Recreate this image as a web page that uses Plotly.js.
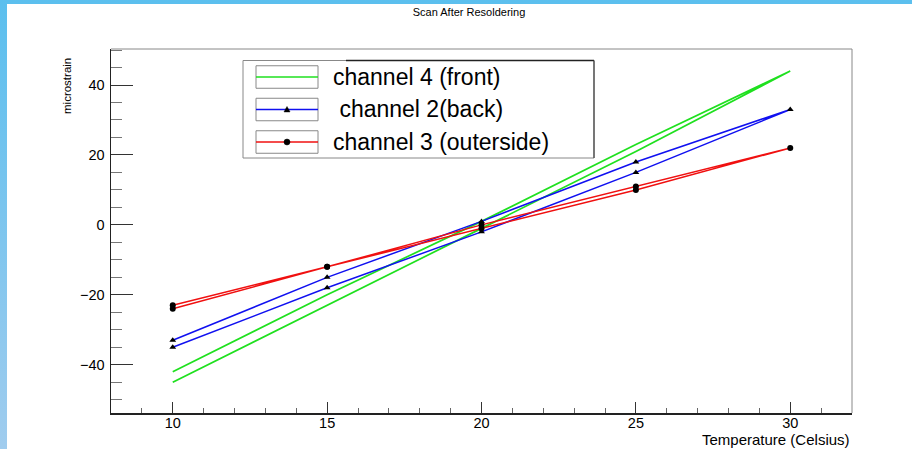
<!DOCTYPE html>
<html><head><meta charset="utf-8">
<script src="https://cdn.plot.ly/plotly-3.0.1.min.js"></script>
<style>
html,body{margin:0;padding:0;}
body{width:912px;height:449px;background:linear-gradient(#5bbfee,#a0ccee);position:relative;overflow:hidden;}
#bg{position:absolute;left:7px;top:4px;right:0;bottom:0;background:#fff;}
#chart{position:absolute;left:0;top:0;width:912px;height:449px;}
</style></head><body><div id="bg"></div><div id="chart"></div>
<script>
// Scan: temperature up 10 -> 30, then back down 30 -> 10
const temperature = [10, 15, 20, 25, 30, 25, 20, 15, 10];
const ch4Front = [-42, -20, 1, 23, 44, 21, -1, -23, -45];
const ch2Back  = [-33, -15, 1, 18, 33, 15, -2, -18, -35];
const ch3Outer = [-23, -12, 0, 11, 22, 10, -1, -12, -24];
const seriesNames = ['channel 4 (front)', '\u00a0channel 2(back)', 'channel 3 (outerside)'];
const yTickVals = [-40, -20, 0, 20, 40];
const xTickVals = [10, 15, 20, 25, 30];

// plot-area pixel geometry
const L = 111, R = 852, T = 49, B = 413;
const W = R - L, H = B - T;
const px = x => (x - L) / W;
const py = y => (B - y) / H;

const traces = [
  {x: temperature, y: ch4Front, mode: 'lines', line: {color: '#1fe01f', width: 1.7}, name: seriesNames[0]},
  {x: temperature, y: ch2Back, mode: 'lines+markers', line: {color: '#1010f0', width: 1.5},
   marker: {symbol: 'triangle-up', size: 6, color: '#000'}, name: seriesNames[1]},
  {x: temperature, y: ch3Outer, mode: 'lines+markers', line: {color: '#f01010', width: 1.5},
   marker: {symbol: 'circle', size: 6, color: '#000'}, name: seriesNames[2]}
];

const shapes = [];
const annotations = [];
// frame top/right
shapes.push({type: 'line', xref: 'paper', yref: 'paper', x0: 0, x1: 1, y0: 1, y1: 1, line: {color: '#888', width: 1}});
shapes.push({type: 'line', xref: 'paper', yref: 'paper', x0: 1, x1: 1, y0: 0, y1: 1, line: {color: '#888', width: 1}});

// legend
const lgL = 243, lgR = 594, lgT = 60.5, lgB = 158;
shapes.push({type: 'rect', xref: 'paper', yref: 'paper', x0: px(lgL), x1: px(lgR), y0: py(lgB), y1: py(lgT),
  line: {color: '#888', width: 1}, fillcolor: 'rgba(255,255,255,1)', layer: 'above'});
shapes.push({type: 'line', xref: 'paper', yref: 'paper', x0: px(346), x1: px(lgR), y0: py(lgT), y1: py(lgT), line: {color: '#222', width: 1.5}, layer: 'above'});
shapes.push({type: 'line', xref: 'paper', yref: 'paper', x0: px(lgR), x1: px(lgR), y0: py(lgT), y1: py(lgB), line: {color: '#444', width: 1.2}, layer: 'above'});
const rowC = [77, 109.5, 142];
const rowColors = ['#1fe01f', '#1010f0', '#f01010'];
const swL = 256, swR = 318, swH = 22.5, swX = 287;
rowC.forEach((c, i) => {
  shapes.push({type: 'rect', xref: 'paper', yref: 'paper', x0: px(swL), x1: px(swR), y0: py(c + swH / 2), y1: py(c - swH / 2),
    line: {color: '#888', width: 1}, layer: 'above'});
  shapes.push({type: 'line', xref: 'paper', yref: 'paper', x0: px(swL), x1: px(swR), y0: py(c), y1: py(c),
    line: {color: rowColors[i], width: 1.6}, layer: 'above'});
  annotations.push({xref: 'paper', yref: 'paper', x: px(331), y: py(c), xanchor: 'left', yanchor: 'middle',
    text: seriesNames[i], showarrow: false, font: {family: 'Liberation Sans, Arial, sans-serif', size: 23, color: '#000'}});
});
// legend markers
const tri = (cx, cy, s) => `M ${px(cx - s)} ${py(cy + s * 0.8)} L ${px(cx + s)} ${py(cy + s * 0.8)} L ${px(cx)} ${py(cy - s)} Z`;
shapes.push({type: 'path', xref: 'paper', yref: 'paper', path: tri(swX, rowC[1], 3), fillcolor: '#000', line: {color: '#000', width: 0.5}, layer: 'above'});
shapes.push({type: 'circle', xref: 'paper', yref: 'paper', x0: px(swX - 3), x1: px(swX + 3), y0: py(rowC[2] + 3), y1: py(rowC[2] - 3),
  fillcolor: '#000', line: {color: '#000', width: 0.5}, layer: 'above'});

// axis titles
const txtFont = 'Liberation Sans, Arial, sans-serif';
annotations.push({xref: 'paper', yref: 'paper', x: px(67), y: py(56), xanchor: 'center', yanchor: 'top', textangle: -90,
  text: 'microstrain', showarrow: false, font: {family: txtFont, size: 11.5, color: '#000'}});
annotations.push({xref: 'paper', yref: 'paper', x: 1, y: py(439), xanchor: 'right', yanchor: 'middle',
  text: 'Temperature (Celsius)', showarrow: false, font: {family: txtFont, size: 15, color: '#000'}});

const tickFont = {family: txtFont, size: 14.5, color: '#000'};
const layout = {
  width: 912, height: 449,
  margin: {l: L, r: 912 - R, t: T, b: 449 - B},
  paper_bgcolor: 'rgba(0,0,0,0)', plot_bgcolor: '#fff',
  showlegend: false,
  title: {text: 'Scan After Resoldering', xref: 'container', yref: 'container', x: 469 / 912, xanchor: 'center',
    y: 1 - 12 / 449, yanchor: 'middle',
    font: {family: txtFont, size: 11, color: '#000'}},
  xaxis: {range: [8, 32], tickvals: xTickVals, ticks: 'inside', ticklen: 11, tickcolor: '#333', tickwidth: 1,
    showgrid: false, zeroline: false, showline: true, linecolor: '#222', linewidth: 1.5,
    minor: {dtick: 1, tick0: 0, ticks: 'inside', ticklen: 5.5, tickcolor: '#666', showgrid: false},
    tickfont: tickFont, ticklabelstandoff: -4},
  yaxis: {range: [-53.8, 50.3], tickvals: yTickVals, ticks: 'inside', ticklen: 22, tickcolor: '#333', tickwidth: 1,
    showgrid: false, zeroline: false, showline: true, linecolor: '#222', linewidth: 1.5,
    minor: {dtick: 5, tick0: 0, ticks: 'inside', ticklen: 11, tickcolor: '#777', showgrid: false},
    tickfont: tickFont, ticklabelstandoff: 2},
  shapes: shapes,
  annotations: annotations
};
Plotly.newPlot('chart', traces, layout, {displayModeBar: false, staticPlot: true});
</script></body></html>
